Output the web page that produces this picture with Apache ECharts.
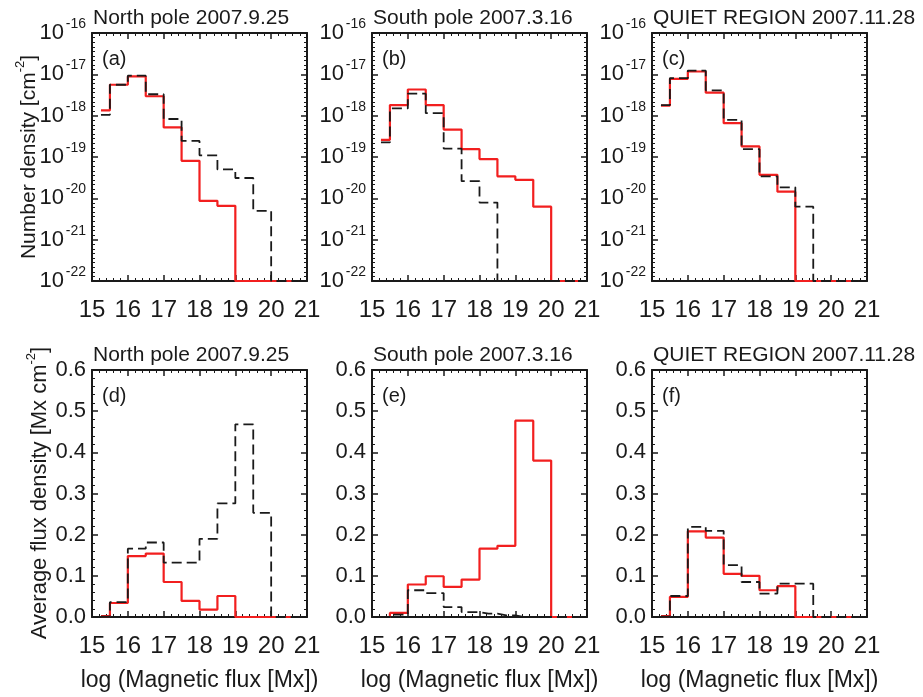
<!DOCTYPE html>
<html>
<head>
<meta charset="utf-8">
<script src="https://cdn.jsdelivr.net/npm/echarts@6/dist/echarts.min.js"></script>
<style>
  html, body { margin: 0; padding: 0; background: #ffffff; }
  #chart { width: 923px; height: 697px; }
</style>
</head>
<body>
<div id="chart"></div>
<script>
// Histogram bin centres, log10 of magnetic flux [Mx]
const binCenters = [15.25, 15.75, 16.25, 16.75, 17.25, 17.75, 18.25, 18.75, 19.25, 19.75, 20.25, 20.75];
const xTickValues = [15, 16, 17, 18, 19, 20, 21];

const panelTitles = ['North pole 2007.9.25', 'South pole 2007.3.16', 'QUIET REGION 2007.11.28'];
const panelTags = ['(a)', '(b)', '(c)', '(d)', '(e)', '(f)'];

// Number density [cm^-2] (0 = empty bin)
const densityNorthRed   = [1.35e-18, 5.6e-18, 8.9e-18, 2.95e-18, 5.2e-19, 8.1e-20, 8.7e-21, 6.6e-21, 0, 0, 0, 0];
const densityNorthBlack = [1.05e-18, 5.6e-18, 9.3e-18, 3.3e-18, 8.3e-19, 2.45e-19, 1.1e-19, 5.0e-20, 3.1e-20, 5.0e-21, 0, 0];
const densitySouthRed   = [2.6e-19, 1.8e-18, 4.3e-18, 1.8e-18, 4.6e-19, 1.55e-19, 8.9e-20, 3.4e-20, 2.8e-20, 6.3e-21, 0, 0];
const densitySouthBlack = [2.25e-19, 1.5e-18, 3.4e-18, 1.15e-18, 1.6e-19, 2.6e-20, 7.9e-21, 0, 0, 0, 0, 0];
const densityQuietRed   = [1.75e-18, 7.8e-18, 1.17e-17, 3.6e-18, 6.6e-19, 1.8e-19, 3.7e-20, 1.45e-20, 0, 0, 0, 0];
const densityQuietBlack = [1.8e-18, 8.1e-18, 1.23e-17, 4.1e-18, 7.9e-19, 1.55e-19, 3.4e-20, 1.85e-20, 6.3e-21, 0, 0, 0];

// Average flux density [Mx cm^-2]
const fluxNorthRed   = [0.002, 0.034, 0.148, 0.154, 0.085, 0.039, 0.018, 0.051, 0, 0, 0, 0];
const fluxNorthBlack = [0.001, 0.036, 0.166, 0.181, 0.132, 0.132, 0.190, 0.276, 0.468, 0.253, 0, 0];
const fluxSouthRed   = [0, 0.010, 0.079, 0.099, 0.073, 0.091, 0.166, 0.173, 0.477, 0.380, 0, 0];
const fluxSouthBlack = [0, 0.006, 0.065, 0.058, 0.024, 0.012, 0.008, 0.004, 0, 0, 0, 0];
const fluxQuietRed   = [0.002, 0.049, 0.208, 0.193, 0.105, 0.100, 0.065, 0.075, 0, 0, 0, 0];
const fluxQuietBlack = [0.001, 0.051, 0.219, 0.209, 0.126, 0.085, 0.057, 0.081, 0.081, 0, 0, 0];

// Axis ranges: density axis in decades (log10), flux axis linear
const densityDecades = [-22, -16];
const fluxRange = [0, 0.6];

const redSets = [densityNorthRed, densitySouthRed, densityQuietRed, fluxNorthRed, fluxSouthRed, fluxQuietRed];
const blackSets = [densityNorthBlack, densitySouthBlack, densityQuietBlack, fluxNorthBlack, fluxSouthBlack, fluxQuietBlack];

// ---- layout ----
const FONT = '"Liberation Sans", Arial, Helvetica, sans-serif';
const INK = '#1a1a1a';
const RED = '#f21f1f';
const colLeft = [92, 372, 652];
const boxW = 215;
const rowTop = [33, 370];
const rowH = [248, 247];

const chart = echarts.init(document.getElementById('chart'), null, { renderer: 'canvas' });

const grids = [], xAxes = [], yAxes = [], series = [], graphics = [];

for (let p = 0; p < 6; p++) {
  const r = p < 3 ? 0 : 1;
  const c = p % 3;
  const isDensity = r === 0;
  grids.push({ left: colLeft[c], top: rowTop[r], width: boxW, height: rowH[r] });

  const axisLine = { show: true, onZero: false, lineStyle: { color: INK, width: 2 } };
  const tick = { show: true, inside: true, length: 6, lineStyle: { color: INK, width: 1.5 } };
  const minor = { show: true, splitNumber: 5, length: 3, lineStyle: { color: INK, width: 1 } };

  // bottom + top x axes
  const xIndex = xAxes.length;
  const xBase = {
    type: 'value', gridIndex: p, min: xTickValues[0], max: xTickValues[xTickValues.length - 1], interval: 1,
    axisLine, axisTick: tick, minorTick: minor, splitLine: { show: false }
  };
  xAxes.push(Object.assign({}, xBase, {
    position: 'bottom',
    axisLabel: { show: true, fontFamily: FONT, fontSize: 24, color: INK, margin: 17, showMinLabel: true, showMaxLabel: true, hideOverlap: false }
  }));
  xAxes.push(Object.assign({}, xBase, { position: 'top', axisLabel: { show: false } }));

  // left + right y axes
  const yIndex = yAxes.length;
  const yBase = isDensity ? {
    type: 'value', gridIndex: p, min: densityDecades[0], max: densityDecades[1], interval: 1,
    axisLine, axisTick: tick, minorTick: { show: true, splitNumber: 9, length: 3, lineStyle: { color: INK, width: 1 } },
    splitLine: { show: false }
  } : {
    type: 'value', gridIndex: p, min: fluxRange[0], max: fluxRange[1], interval: 0.1,
    axisLine, axisTick: tick, minorTick: minor, splitLine: { show: false }
  };
  const leftLabel = isDensity ? {
    // mantissa "10" of each decade label
    show: true, margin: 28, color: INK, fontFamily: FONT, fontSize: 22, padding: [10, 0, 0, 0],
    showMinLabel: true, showMaxLabel: true, hideOverlap: false,
    formatter: () => '10'
  } : {
    show: true, margin: 6, color: INK, fontFamily: FONT, fontSize: 22, showMinLabel: true, showMaxLabel: true, hideOverlap: false,
    formatter: (v) => v.toFixed(1)
  };
  yAxes.push(Object.assign({}, yBase, { position: 'left', offset: 0, axisLabel: leftLabel }));
  yAxes.push(Object.assign({}, yBase, { position: 'right', offset: 0, axisLabel: { show: false } }));
  if (isDensity) {
    // raised exponent of each decade label
    yAxes.push({
      type: 'value', gridIndex: p, min: densityDecades[0], max: densityDecades[1], interval: 1,
      position: 'left', offset: 0,
      axisLine: { show: false }, axisTick: { show: false }, splitLine: { show: false },
      axisLabel: {
        show: true, margin: 6, color: INK, fontFamily: FONT, fontSize: 14, lineHeight: 14,
        verticalAlign: 'bottom', padding: [0, 0, 2, 0],
        showMinLabel: true, showMaxLabel: true, hideOverlap: false,
        formatter: (v) => String(Math.round(v))
      }
    });
  }

  // empty bins sit on the lower frame, as in the original plotting
  const toY = isDensity
    ? (v) => (v > 0 ? Math.max(Math.log10(v), densityDecades[0]) : densityDecades[0])
    : (v) => (v > 0 ? v : fluxRange[0]);
  const toPoints = (arr) => binCenters.map((x, i) => [x, toY(arr[i])]);

  series.push({
    type: 'line', step: 'middle', xAxisIndex: xIndex, yAxisIndex: yIndex,
    data: toPoints(redSets[p]), symbol: 'none', showSymbol: false, clip: true, z: 3,
    lineStyle: { color: RED, width: 2.2 }, emphasis: { disabled: true }
  });
  series.push({
    type: 'line', step: 'middle', xAxisIndex: xIndex, yAxisIndex: yIndex,
    data: toPoints(blackSets[p]), symbol: 'none', showSymbol: false, clip: true, z: 4,
    lineStyle: { color: INK, width: 1.8, type: [10, 5] }, emphasis: { disabled: true }
  });

  // panel title (left aligned to the frame) and tag
  graphics.push({
    type: 'text', x: colLeft[c] + 1, y: r === 0 ? 18 : 355,
    style: { text: panelTitles[c], font: '21px ' + FONT, fill: INK, align: 'left', verticalAlign: 'middle' }
  });
  graphics.push({
    type: 'text', x: colLeft[c] + 10, y: rowTop[r] + 26,
    style: { text: panelTags[p], font: '20px ' + FONT, fill: INK, align: 'left', verticalAlign: 'middle' }
  });
}

// axis titles (rotated, with raised exponent)
function rotatedTitle(x, y, before, sup, after, size) {
  return {
    type: 'group', x: x, y: y, rotation: Math.PI / 2,
    children: [{
      type: 'text',
      style: {
        text: '{n|' + before + '}{s|' + sup + '}{n|' + after + '}', align: 'center', verticalAlign: 'middle',
        rich: {
          n: { fontFamily: FONT, fontSize: size, fill: INK, padding: [8, 0, 0, 0] },
          s: { fontFamily: FONT, fontSize: 13, fill: INK, padding: [0, 0, 10, 0] }
        }
      }
    }]
  };
}
graphics.push(rotatedTitle(25, 157, 'Number density [cm', '-2', ']', 21));
graphics.push(rotatedTitle(36, 493, 'Average flux density [Mx cm', '-2', ']', 22));

for (let c = 0; c < 3; c++) {
  graphics.push({
    type: 'text', x: colLeft[c] + boxW / 2, y: 681,
    style: { text: 'log (Magnetic flux [Mx])', font: '23px ' + FONT, fill: INK, align: 'center', verticalAlign: 'middle' }
  });
}

chart.setOption({
  animation: false,
  backgroundColor: '#ffffff',
  grid: grids,
  xAxis: xAxes,
  yAxis: yAxes,
  series: series,
  graphic: graphics
});
</script>
</body>
</html>
